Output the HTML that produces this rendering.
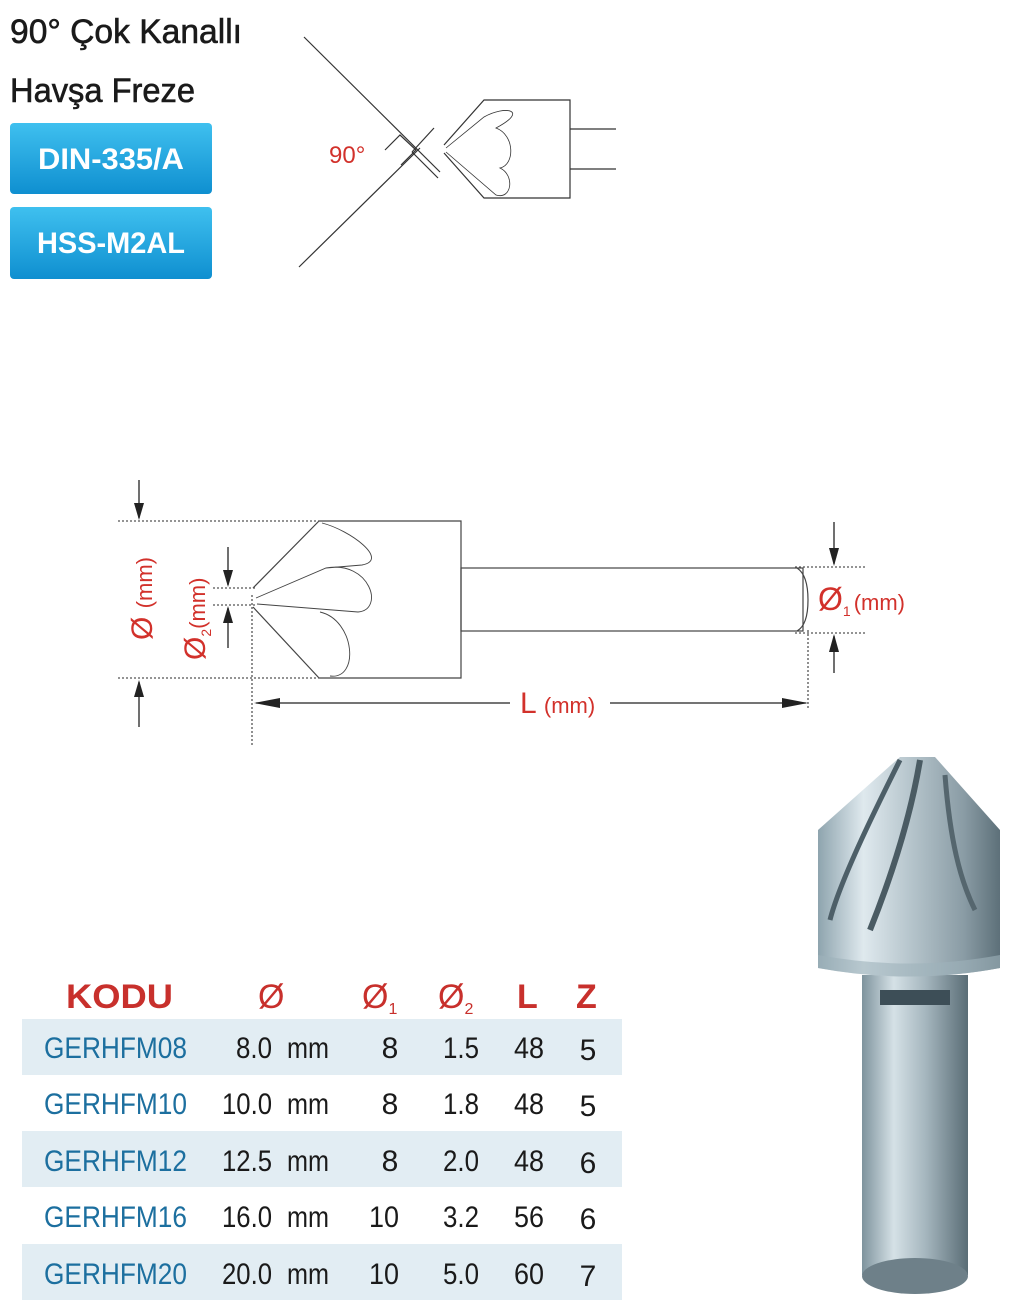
<!DOCTYPE html>
<html><head><meta charset="utf-8"><style>
html,body{margin:0;padding:0;background:#fff;width:1024px;height:1308px;overflow:hidden}
svg{display:block}
text{font-family:"Liberation Sans Narrow","Liberation Sans",sans-serif}
</style></head><body>
<svg width="1024" height="1308" viewBox="0 0 1024 1308" xmlns="http://www.w3.org/2000/svg">
<defs>
<linearGradient id="btn" x1="0" y1="0" x2="0" y2="1"><stop offset="0" stop-color="#3fc0ef"/><stop offset="1" stop-color="#0f8fd0"/></linearGradient>
<linearGradient id="metal" x1="0" y1="0" x2="1" y2="0"><stop offset="0" stop-color="#8ea4ae"/><stop offset="0.25" stop-color="#dfe9ee"/><stop offset="0.5" stop-color="#b7c6cd"/><stop offset="0.8" stop-color="#8a9ca5"/><stop offset="1" stop-color="#5d7079"/></linearGradient>
<linearGradient id="shank" x1="0" y1="0" x2="1" y2="0"><stop offset="0" stop-color="#7e939d"/><stop offset="0.3" stop-color="#d5e1e6"/><stop offset="0.6" stop-color="#a5b6be"/><stop offset="1" stop-color="#5a6d76"/></linearGradient>
</defs>

<text x="10" y="43" font-size="34" fill="#1a1a1a" stroke="#1a1a1a" stroke-width="0.6" textLength="232" lengthAdjust="spacingAndGlyphs">90° Çok Kanallı</text>
<text x="10" y="102" font-size="34" fill="#1a1a1a" stroke="#1a1a1a" stroke-width="0.6" textLength="185" lengthAdjust="spacingAndGlyphs">Havşa Freze</text>

<rect x="10" y="123" width="202" height="71" rx="4" fill="url(#btn)"/>
<text x="111" y="169" font-size="30" font-weight="bold" fill="#fff" text-anchor="middle" textLength="146" lengthAdjust="spacingAndGlyphs">DIN-335/A</text>
<rect x="10" y="207" width="202" height="72" rx="4" fill="url(#btn)"/>
<text x="111" y="253" font-size="30" font-weight="bold" fill="#fff" text-anchor="middle" textLength="148" lengthAdjust="spacingAndGlyphs">HSS-M2AL</text>

<g stroke="#333" stroke-width="1.2" fill="none">
<line x1="304" y1="37" x2="440" y2="172"/>
<line x1="299" y1="267" x2="420" y2="148"/>
<polyline points="385,150 400,135 416,150 401,165"/>
<line x1="434" y1="128" x2="412" y2="152"/>
<line x1="412" y1="152" x2="438" y2="178"/>
<polyline points="444,145 484,100 570,100 570,198 484,198 444,153"/>
<line x1="570" y1="129" x2="616" y2="129"/>
<line x1="570" y1="169" x2="616" y2="169"/>
<path d="M446,148 L484,117 C505,105 530,110 496,128 C515,135 515,165 500,168 C515,175 512,200 496,195 L446,152" stroke-width="0.8"/>
</g>
<text x="329" y="163" font-size="24" fill="#d2312b">90°</text>

<g stroke="#444" stroke-width="1.2" fill="none">
<polyline points="319,521 461,521 461,678 319,678"/>
<line x1="319" y1="521" x2="253" y2="588"/>
<line x1="319" y1="678" x2="253" y2="607"/>
<rect x="461" y="568" width="342" height="63"/>
<path d="M797,568 Q808,575 808,600 Q808,625 797,631"/>
<path d="M322,523 C350,530 390,560 362,565 L326,568 L256,598 M326,568 C370,560 385,610 358,612 L257,604 M320,612 C355,620 360,680 330,676" stroke-width="0.9"/>
</g>
<g stroke="#555" stroke-width="1.3" stroke-dasharray="2,2" fill="none">
<line x1="118" y1="521" x2="319" y2="521"/>
<line x1="118" y1="678" x2="319" y2="678"/>
<line x1="213" y1="588" x2="256" y2="588"/>
<line x1="213" y1="605" x2="256" y2="605"/>
<line x1="252" y1="595" x2="252" y2="745"/>
<line x1="808" y1="630" x2="808" y2="710"/>
<line x1="795" y1="567" x2="866" y2="567"/>
<line x1="795" y1="633" x2="866" y2="633"/>
</g>
<g stroke="#222" stroke-width="1.3">
<line x1="139" y1="480" x2="139" y2="518"/>
<line x1="139" y1="682" x2="139" y2="727"/>
<line x1="228" y1="547" x2="228" y2="585"/>
<line x1="228" y1="608" x2="228" y2="648"/>
<line x1="834" y1="522" x2="834" y2="564"/>
<line x1="834" y1="636" x2="834" y2="673"/>
<line x1="256" y1="703" x2="510" y2="703"/>
<line x1="610" y1="703" x2="806" y2="703"/>
</g>
<g fill="#222">
<polygon points="134,503 144,503 139,520"/>
<polygon points="134,697 144,697 139,680"/>
<polygon points="223,570 233,570 228,587"/>
<polygon points="223,623 233,623 228,606"/>
<polygon points="829,548 839,548 834,566"/>
<polygon points="829,652 839,652 834,634"/>
<polygon points="254,703 280,698 280,708"/>
<polygon points="808,703 782,698 782,708"/>
</g>
<text transform="translate(152,640) rotate(-90)" font-size="30" fill="#d2312b">Ø <tspan font-size="22">(mm)</tspan></text>
<text transform="translate(205,660) rotate(-90)" font-size="30" fill="#d2312b">Ø<tspan font-size="14" dy="6">2</tspan><tspan font-size="22" dy="-6">(mm)</tspan></text>
<text x="818" y="610" font-size="32" fill="#d2312b">Ø<tspan font-size="14" dy="6">1</tspan><tspan font-size="22" dy="-6" dx="3">(mm)</tspan></text>
<text x="520" y="713" font-size="30" fill="#d2312b">L <tspan font-size="22">(mm)</tspan></text>

<g>
<rect x="862" y="975" width="106" height="300" fill="url(#shank)"/>
<ellipse cx="915" cy="1276" rx="53" ry="18" fill="#6e8089"/>
<path d="M818,830 L900,757 L935,757 L1000,830 L1000,968 Q910,985 818,968 Z" fill="url(#metal)"/>
<path d="M818,830 L818,968 Q910,985 1000,968 L1000,955 Q910,972 818,955Z" fill="#9fb2ba" opacity="0.6"/>
<path d="M900,760 C880,800 840,880 830,920" stroke="#4d5f68" stroke-width="5" fill="none"/>
<path d="M920,760 C910,820 890,880 870,930" stroke="#4a5b63" stroke-width="6" fill="none"/>
<path d="M945,775 C950,840 960,880 975,910" stroke="#55666e" stroke-width="5" fill="none"/>
<path d="M880,990 L950,990 L950,1005 L880,1005Z" fill="#3d4e57"/>
</g>

<rect x="22" y="1019" width="600" height="56" fill="#e2edf3"/>
<rect x="22" y="1131" width="600" height="56" fill="#e2edf3"/>
<rect x="22" y="1244" width="600" height="56" fill="#e2edf3"/>
<g fill="#c8302c" font-weight="bold" font-size="34">
<text x="66" y="1008" textLength="107" lengthAdjust="spacingAndGlyphs">KODU</text>
<text x="258" y="1008" font-weight="normal">Ø</text>
<text x="362" y="1008" font-weight="normal">Ø<tspan font-size="16" dy="6">1</tspan></text>
<text x="438" y="1008" font-weight="normal">Ø<tspan font-size="16" dy="6">2</tspan></text>
<text x="517" y="1008">L</text>
<text x="576" y="1008">Z</text>
</g>
<g font-size="30">
<g fill="#1c6f9f">
<text x="44" y="1058" textLength="143" lengthAdjust="spacingAndGlyphs">GERHFM08</text>
<text x="44" y="1114" textLength="143" lengthAdjust="spacingAndGlyphs">GERHFM10</text>
<text x="44" y="1171" textLength="143" lengthAdjust="spacingAndGlyphs">GERHFM12</text>
<text x="44" y="1227" textLength="143" lengthAdjust="spacingAndGlyphs">GERHFM16</text>
<text x="44" y="1284" textLength="143" lengthAdjust="spacingAndGlyphs">GERHFM20</text>
</g>
<g fill="#1a1a1a">
<text x="236" y="1058" textLength="36" lengthAdjust="spacingAndGlyphs">8.0</text><text x="287" y="1058" textLength="42" lengthAdjust="spacingAndGlyphs">mm</text>
<text x="222" y="1114" textLength="50" lengthAdjust="spacingAndGlyphs">10.0</text><text x="287" y="1114" textLength="42" lengthAdjust="spacingAndGlyphs">mm</text>
<text x="222" y="1171" textLength="50" lengthAdjust="spacingAndGlyphs">12.5</text><text x="287" y="1171" textLength="42" lengthAdjust="spacingAndGlyphs">mm</text>
<text x="222" y="1227" textLength="50" lengthAdjust="spacingAndGlyphs">16.0</text><text x="287" y="1227" textLength="42" lengthAdjust="spacingAndGlyphs">mm</text>
<text x="222" y="1284" textLength="50" lengthAdjust="spacingAndGlyphs">20.0</text><text x="287" y="1284" textLength="42" lengthAdjust="spacingAndGlyphs">mm</text>
<g text-anchor="middle">
<text x="390" y="1058">8</text><text x="461" y="1058" textLength="36" lengthAdjust="spacingAndGlyphs">1.5</text><text x="529" y="1058" textLength="30" lengthAdjust="spacingAndGlyphs">48</text><text x="588" y="1060">5</text>
<text x="390" y="1114">8</text><text x="461" y="1114" textLength="36" lengthAdjust="spacingAndGlyphs">1.8</text><text x="529" y="1114" textLength="30" lengthAdjust="spacingAndGlyphs">48</text><text x="588" y="1116">5</text>
<text x="390" y="1171">8</text><text x="461" y="1171" textLength="36" lengthAdjust="spacingAndGlyphs">2.0</text><text x="529" y="1171" textLength="30" lengthAdjust="spacingAndGlyphs">48</text><text x="588" y="1173">6</text>
<text x="384" y="1227" textLength="30" lengthAdjust="spacingAndGlyphs">10</text><text x="461" y="1227" textLength="36" lengthAdjust="spacingAndGlyphs">3.2</text><text x="529" y="1227" textLength="30" lengthAdjust="spacingAndGlyphs">56</text><text x="588" y="1229">6</text>
<text x="384" y="1284" textLength="30" lengthAdjust="spacingAndGlyphs">10</text><text x="461" y="1284" textLength="36" lengthAdjust="spacingAndGlyphs">5.0</text><text x="529" y="1284" textLength="30" lengthAdjust="spacingAndGlyphs">60</text><text x="588" y="1286">7</text>
</g>
</g>
</g>
</svg>
</body></html>
